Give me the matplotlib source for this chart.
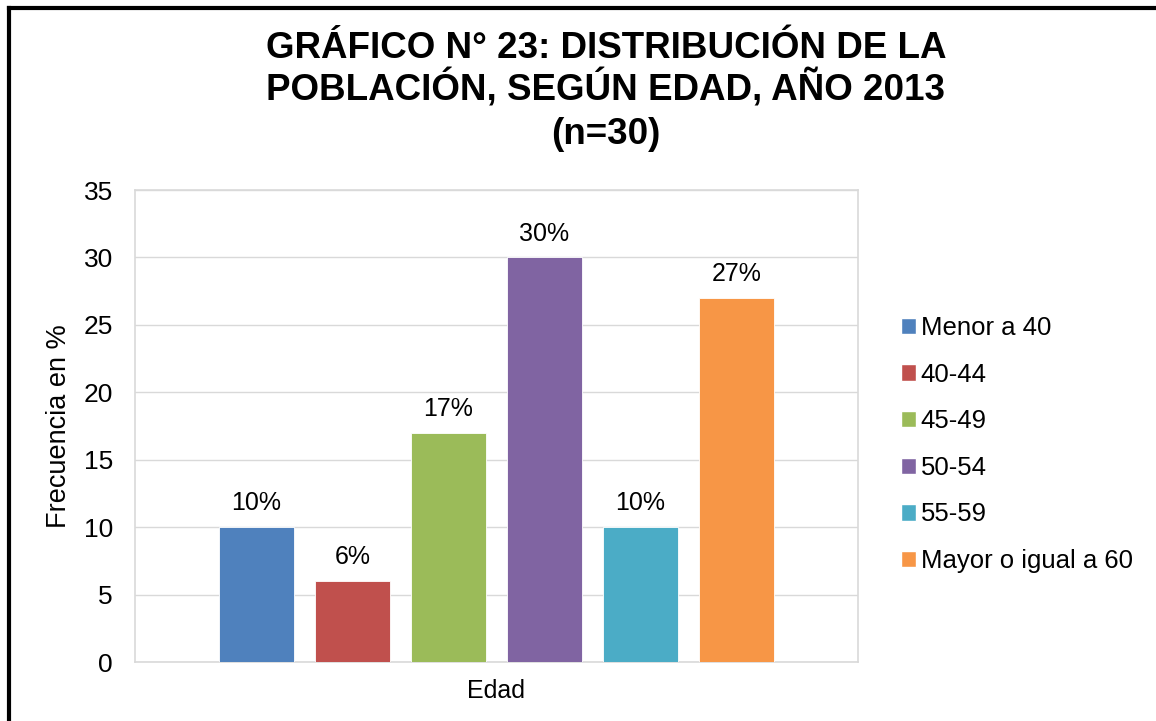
import matplotlib
matplotlib.use("Agg")
import matplotlib.pyplot as plt
from matplotlib.lines import Line2D
from matplotlib.patches import Patch

plt.rcParams['font.family'] = ['Liberation Sans', 'DejaVu Sans']

categories = ["Menor a 40", "40-44", "45-49", "50-54", "55-59", "Mayor o igual a 60"]
values = [10, 6, 17, 30, 10, 27]
labels = ["10%", "6%", "17%", "30%", "10%", "27%"]
colors = ["#4F81BD", "#C0504D", "#9BBB59", "#8064A2", "#4BACC6", "#F79646"]
yticks = [0, 5, 10, 15, 20, 25, 30, 35]
title_lines = ["GRÁFICO N° 23: DISTRIBUCIÓN DE LA",
               "POBLACIÓN, SEGÚN EDAD, AÑO 2013",
               "(n=30)"]

W, H = 1156, 721
fig = plt.figure(figsize=(W / 100, H / 100), dpi=100)
ax = fig.add_axes([135 / W, 1 - 662 / H, 723 / W, 472 / H])

step = 0.1328
width = 0.105
n = len(values)
for i, (v, c, lab) in enumerate(zip(values, colors, labels)):
    x = (i - (n - 1) / 2) * step
    ax.bar(x, v, width=width, color=c, edgecolor='white', linewidth=0.6, zorder=3)
    ax.annotate(lab, (x, v), xytext=(0, 8.5), textcoords='offset points',
                ha='center', va='bottom', fontsize=18, color='#000000')

ax.set_xlim(-0.5, 0.5)
ax.set_ylim(0, 35)
ax.set_yticks(yticks)
ax.set_xticks([])
ax.tick_params(axis='y', length=0, labelsize=19, pad=16)
ax.grid(axis='y', color='#D9D9D9', linewidth=1, zorder=0)
for s in ax.spines.values():
    s.set_color('#D9D9D9')
    s.set_linewidth(1.2)

ax.set_ylabel("Frecuencia en %", fontsize=19.5, labelpad=8)
ax.set_xlabel("Edad", fontsize=18, labelpad=12)

baselines = [58, 101, 144]
for line, b in zip(title_lines, baselines):
    fig.text(606 / W, 1 - b / H, line, ha='center', va='baseline',
             fontsize=26.5, fontweight='bold')

handles = [Patch(facecolor=c, edgecolor='white', label=l) for c, l in zip(colors, categories)]
fig.legend(handles=handles, loc='center left', bbox_to_anchor=(0.7705, 1 - 444.5 / H),
           frameon=False, fontsize=18.5, handlelength=0.6, handleheight=0.6,
           handletextpad=0.16, labelspacing=0.88, borderaxespad=0)

# outer black border (left and top visible)
fig.add_artist(Line2D([9 / W, 9 / W], [0, 1 - 8 / H], color='black', linewidth=3, transform=fig.transFigure))
fig.add_artist(Line2D([9 / W, 1], [1 - 8 / H, 1 - 8 / H], color='black', linewidth=3, transform=fig.transFigure))

fig.savefig("out.png", dpi=100)
